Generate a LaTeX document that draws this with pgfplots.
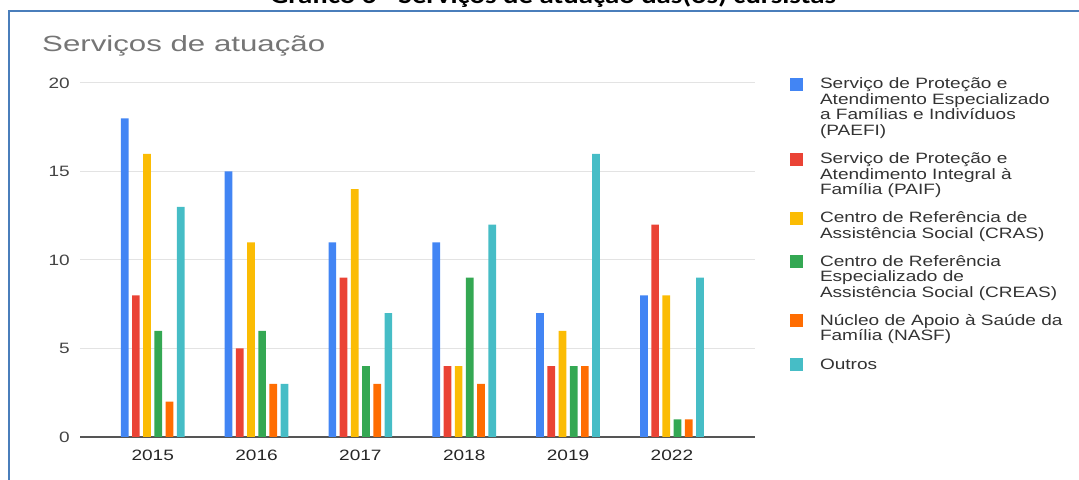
\documentclass[border=0pt]{standalone}
\usepackage{fontspec}
\setmainfont[FakeStretch=1.27]{Liberation Sans}
\newfontfamily\titlefont[FakeStretch=1.42]{Liberation Sans}
\newfontfamily\docfont[FakeStretch=1.2]{Carlito}
\usepackage{pgfplots}
\pgfplotsset{compat=1.18}

\definecolor{cBlue}{HTML}{4285F4}
\definecolor{cRed}{HTML}{EA4335}
\definecolor{cYellow}{HTML}{FBBC04}
\definecolor{cGreen}{HTML}{34A853}
\definecolor{cOrange}{HTML}{FF6D01}
\definecolor{cTeal}{HTML}{46BDC6}
\definecolor{frameBlue}{HTML}{4A7EBB}
\definecolor{titleGray}{HTML}{757575}
\definecolor{tickGray}{HTML}{444444}
\definecolor{gridGray}{HTML}{E3E3E3}
\definecolor{baseGray}{HTML}{555555}

% legend cell: first line on the row baseline
\newcommand{\legcell}[1]{\parbox[t]{250bp}{\raggedright\fontsize{15bp}{15.5bp}\selectfont #1}}

\begin{document}
\begin{tikzpicture}[x=1bp,y=1bp]
\useasboundingbox (0,0) rectangle (1079,480);
\clip (0,0) rectangle (1079,480);

% page title, cut by the top of the screenshot
\node[anchor=base, inner sep=0, font=\docfont\bfseries\fontsize{24bp}{28bp}\selectfont]
  at (553,476) {Gráfico 6 - Serviços de atuação das(os) cursistas};
\draw[frameBlue, line width=2bp] (9,-5) -- (9,469) -- (1090,469);

\node[anchor=base west, inner sep=0, text=titleGray, font=\titlefont\fontsize{22bp}{26bp}\selectfont]
  at (42,428) {Serviços de atuação};

\begin{axis}[
  at={(80bp,43bp)}, anchor=south west,
  scale only axis, width=675bp, height=354bp,
  ybar=3.5bp, bar width=7.7bp,
  xmin=-0.7, xmax=5.8, ymin=0, ymax=20,
  xtick={0,1,2,3,4,5},
  xticklabels={2015,2016,2017,2018,2019,2022},
  ytick={0,5,10,15,20},
  ymajorgrids, grid style={gridGray, line width=1bp},
  extra y ticks={0}, extra y tick labels={},
  extra y tick style={grid style={baseGray, line width=1.5bp}},
  axis line style={draw=none}, major tick length=0pt,
  /pgf/number format/assume math mode=true,
  yticklabel style={inner sep=0pt, xshift=-10bp, text=tickGray,
    font=\fontsize{15bp}{18bp}\selectfont},
  xticklabel style={inner sep=0pt, yshift=-13bp, text=black!85,
    font=\fontsize{15bp}{18bp}\selectfont},
  legend image code/.code={\fill[#1] (0bp,-2bp) rectangle (13bp,11bp);},
  legend style={at={(axis description cs:1.05185,1.01412)}, anchor=north west,
    draw=none, fill=none, inner sep=0pt, outer sep=0pt,
    row sep=14bp, column sep=17bp,
    cells={anchor=base west}, nodes={inner sep=0pt, text depth=, text=black!80}},
]
\addplot[fill=cBlue, draw=none] coordinates {(0,18) (1,15) (2,11) (3,11) (4,7) (5,8)};
\addlegendentry{\legcell{Serviço de Proteção e\newline Atendimento Especializado\newline a Famílias e Indivíduos\newline (PAEFI)}}
\addplot[fill=cRed, draw=none] coordinates {(0,8) (1,5) (2,9) (3,4) (4,4) (5,12)};
\addlegendentry{\legcell{Serviço de Proteção e\newline Atendimento Integral à\newline Família (PAIF)}}
\addplot[fill=cYellow, draw=none] coordinates {(0,16) (1,11) (2,14) (3,4) (4,6) (5,8)};
\addlegendentry{\legcell{Centro de Referência de\newline Assistência Social (CRAS)}}
\addplot[fill=cGreen, draw=none] coordinates {(0,6) (1,6) (2,4) (3,9) (4,4) (5,1)};
\addlegendentry{\legcell{Centro de Referência\newline Especializado de\newline Assistência Social (CREAS)}}
\addplot[fill=cOrange, draw=none] coordinates {(0,2) (1,3) (2,3) (3,3) (4,4) (5,1)};
\addlegendentry{\legcell{Núcleo de Apoio à Saúde da\newline Família (NASF)}}
\addplot[fill=cTeal, draw=none] coordinates {(0,13) (1,3) (2,7) (3,12) (4,16) (5,9)};
\addlegendentry{\legcell{Outros}}
\end{axis}
\end{tikzpicture}
\end{document}
